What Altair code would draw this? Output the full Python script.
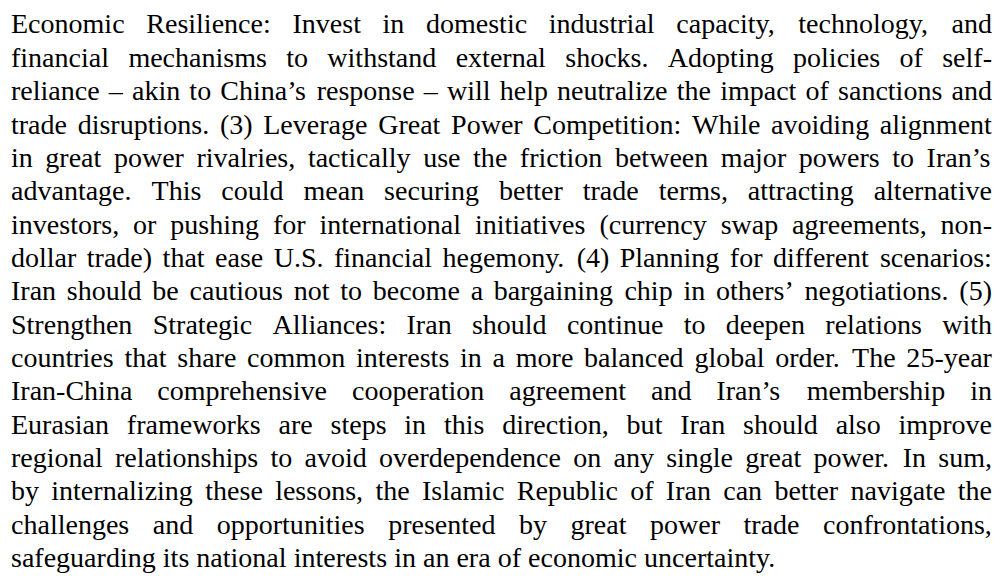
import altair as alt
import pandas as pd

# ---- text content (one entry per printed line) ----
lines = [
    "Economic Resilience: Invest in domestic industrial capacity, technology, and",
    "financial mechanisms to withstand external shocks. Adopting policies of self-",
    "reliance \u2013 akin to China\u2019s response \u2013 will help neutralize the impact of sanctions and",
    "trade disruptions. (3) Leverage Great Power Competition: While avoiding alignment",
    "in great power rivalries, tactically use the friction between major powers to Iran\u2019s",
    "advantage. This could mean securing better trade terms, attracting alternative",
    "investors, or pushing for international initiatives (currency swap agreements, non-",
    "dollar trade) that ease U.S. financial hegemony. (4) Planning for different scenarios:",
    "Iran should be cautious not to become a bargaining chip in others\u2019 negotiations. (5)",
    "Strengthen Strategic Alliances: Iran should continue to deepen relations with",
    "countries that share common interests in a more balanced global order. The 25-year",
    "Iran-China comprehensive cooperation agreement and Iran\u2019s membership in",
    "Eurasian frameworks are steps in this direction, but Iran should also improve",
    "regional relationships to avoid overdependence on any single great power. In sum,",
    "by internalizing these lessons, the Islamic Republic of Iran can better navigate the",
    "challenges and opportunities presented by great power trade confrontations,",
    "safeguarding its national interests in an era of economic uncertainty.",
]
# the last line of the paragraph is not justified
justified = [True] * (len(lines) - 1) + [False]

# ---- Times / Liberation Serif advance widths (em) used for justification ----
_w = {}
_w.update(dict(zip("abcdefghijklmnopqrstuvwxyz",
                   [.444, .5, .444, .5, .444, .333, .5, .5, .278, .278, .5, .278, .778,
                    .5, .5, .5, .5, .333, .389, .278, .5, .5, .722, .5, .5, .444])))
_w.update(dict(zip("ABCDEFGHIJKLMNOPQRSTUVWXYZ",
                   [.722, .667, .667, .722, .611, .556, .722, .722, .333, .389, .722, .611, .889,
                    .722, .722, .556, .722, .667, .556, .611, .722, .722, .944, .722, .722, .611])))
_w.update({c: .5 for c in "0123456789"})
_w.update({" ": .25, ",": .25, ".": .25, ":": .278, ";": .278, "-": .333, "(": .333,
           ")": .333, "\u2013": .5, "\u2019": .333, "'": .18})


def em_width(s):
    return sum(_w.get(c, .5) for c in s)


FONT = "Liberation Serif"
W, H = 988, 569          # whole chart (fit)
LEFT, TEXT_W = 3, 981    # text block inside the chart
ASCENT, DESCENT = 0.891, 0.216

natural = [em_width(" ".join(l.split())) for l in lines]
FS = 0.97 * TEXT_W / max(natural)   # a little below the size at which the tightest line just fits
line_em = TEXT_W / FS
FIRST_BASE = ASCENT * FS + 0.5
LAST_BASE = H - DESCENT * FS - 4
LEAD = (LAST_BASE - FIRST_BASE) / (len(lines) - 1)

rows = []
for i, (ln, just) in enumerate(zip(lines, justified)):
    words = ln.split()
    ws = [em_width(w) for w in words]
    if just and len(words) > 1:
        gap = (line_em - sum(ws)) / (len(words) - 1)
    else:
        gap = _w[" "]
    pos = 0.0
    for w, wd in zip(words, ws):
        rows.append({"line": i, "x": pos, "word": w})
        pos += wd + gap

df = pd.DataFrame(rows)

x_scale = alt.Scale(domain=[-LEFT / FS, (W - LEFT) / FS], nice=False, zero=False)
y_scale = alt.Scale(domain=[-FIRST_BASE / LEAD, (H - FIRST_BASE) / LEAD],
                    nice=False, zero=False, reverse=True)

chart = (
    alt.Chart(df)
    .mark_text(font=FONT, fontSize=FS, align="left", baseline="alphabetic", color="#000000")
    .encode(
        x=alt.X("x:Q", scale=x_scale, axis=None),
        y=alt.Y("line:Q", scale=y_scale, axis=None),
        text="word:N",
    )
    .properties(width=W, height=H, padding=0,
                autosize=alt.AutoSizeParams(type="fit", contains="padding"),
                background="#ffffff")
    .configure_view(stroke=None)
)

chart.save("out.html", embed_options={"renderer": "svg", "actions": False})
